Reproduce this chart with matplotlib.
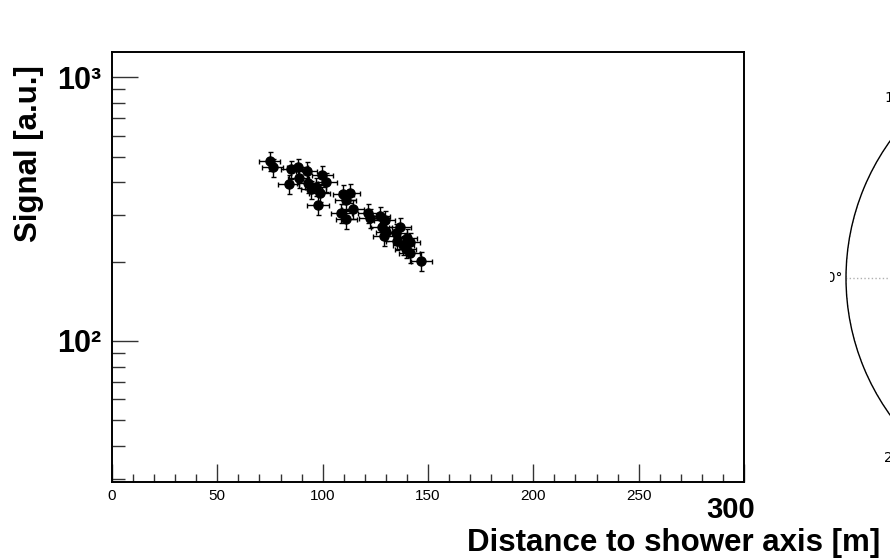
import numpy as np
import matplotlib
matplotlib.use("Agg")
import matplotlib.pyplot as plt
from matplotlib.ticker import MultipleLocator, FixedLocator, NullFormatter
import matplotlib.transforms as mtransforms

# Lateral distribution of station signals
distance = [74.8, 76.3, 85.1, 88.2, 92.5, 84.0, 88.7, 93.0, 94.6, 96.7,
            98.6, 97.8, 99.8, 101.7, 109.7, 111.0, 112.9, 108.9, 111.3, 114.4,
            121.6, 122.4, 127.1, 129.5, 128.0, 130.3, 129.0, 134.8, 136.7, 135.1,
            139.9, 141.4, 139.5, 141.4, 146.7, 138.2]
signal = [481, 455, 447, 455, 442, 393, 413, 396, 375, 384,
          364, 327, 425, 400, 360, 342, 363, 305, 289, 316,
          305, 292, 297, 287, 271, 259, 250, 256, 270, 240,
          245, 238, 224, 215, 201, 231]
distance_err = [5.0] * len(distance)
signal_err = [0.08 * s for s in signal]

x_major = [0, 50, 100, 150, 200, 250, 300]
x_labels = ["0", "50", "100", "150", "200", "250", ""]
y_major = [100, 1000]
y_labels = ["10\u00b2", "10\u00b3"]

W, H = 890, 558
fig = plt.figure(figsize=(W / 100, H / 100), dpi=100)
fig.patch.set_facecolor("white")

font = "Liberation Sans"

ax = fig.add_axes([112 / W, (H - 482) / H, (744 - 112) / W, (482 - 52) / H])
ax.errorbar(distance, signal, xerr=distance_err, yerr=signal_err,
            fmt="o", color="black", markersize=6.5, elinewidth=1.0,
            ecolor="black", capsize=1.8, capthick=1.0)

ax.set_yscale("log")
ax.set_xlim(0, 300)
ax.set_ylim(29.2, 1245)

for s in ax.spines.values():
    s.set_linewidth(1.4)
    s.set_color("black")

ax.xaxis.set_major_locator(FixedLocator(x_major))
ax.xaxis.set_minor_locator(MultipleLocator(10))
ax.set_xticks(x_major, labels=x_labels)
ax.yaxis.set_major_locator(FixedLocator(y_major))
ax.yaxis.set_minor_locator(FixedLocator(
    [v * d for d in (10, 100) for v in range(2, 10)]))
ax.yaxis.set_minor_formatter(NullFormatter())
ax.set_yticks(y_major, labels=y_labels)

ax.tick_params(axis="x", which="major", direction="in", length=13, width=1,
               color="#333333", pad=5, labelsize=11)
ax.tick_params(axis="x", which="minor", direction="in", length=6, width=1,
               color="#333333")
ax.tick_params(axis="y", which="major", direction="in", length=19, width=1,
               color="#333333", pad=8, labelsize=22)
ax.tick_params(axis="y", which="minor", direction="in", length=9, width=1,
               color="#333333")
for lab in ax.get_xticklabels():
    lab.set_fontfamily(font)
for lab in ax.get_yticklabels():
    lab.set_fontfamily(font)
    lab.set_fontweight("bold")

# End label of the distance axis, drawn large below the axis end
ax.text(293.5, -0.032, "300", transform=mtransforms.blended_transform_factory(
    ax.transData, ax.transAxes), ha="center", va="top", fontsize=21,
    fontweight="bold", fontfamily=font)

fig.text(880 / W, 1 - 551 / H, "Distance to shower axis [m]", ha="right",
         va="baseline", fontsize=22.5, fontweight="bold", fontfamily=font)
fig.text(14 / W, 1 - 65 / H, "Signal [a.u.]", ha="right", va="top",
         rotation=90, rotation_mode="anchor", fontsize=22.5, fontweight="bold",
         fontfamily=font)

# Polar panel for the arrival directions
cx, cy, R = 1081, 278, 235
pax = fig.add_axes([(cx - R) / W, (H - cy - R) / H, 2 * R / W, 2 * R / H],
                   projection="polar")
pax.grid(True, linestyle=":", color="#b0b0b0", linewidth=1)
pax.spines["polar"].set_linewidth(1.0)

# The polar panel is shown only from its left rim onwards
panel_clip = mtransforms.TransformedBbox(
    mtransforms.Bbox([[830 / W, 0.0], [1.0, 1.0]]), fig.transFigure)
fig.canvas.draw()
for lab in pax.get_xticklabels() + pax.get_yticklabels():
    lab.set_clip_box(panel_clip)
    lab.set_clip_on(True)

fig.savefig("out.png", dpi=100, facecolor="white")
